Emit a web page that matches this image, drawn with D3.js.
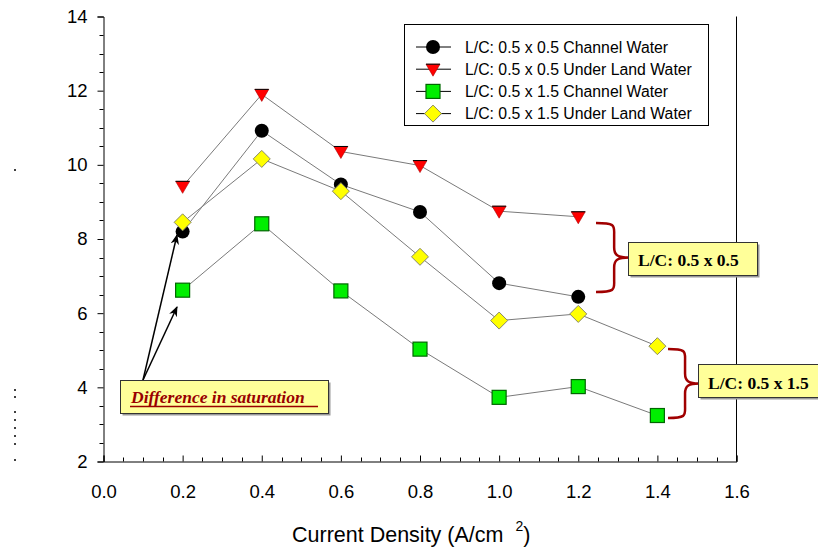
<html>
<head>
  <meta charset="utf-8" />
  <script src="https://cdnjs.cloudflare.com/ajax/libs/d3/7.8.5/d3.min.js"></script>
  <style>
    body { margin: 0; background: #fff; }
  </style>
</head>
<body>
<svg width="818" height="548" font-family="Arial, 'Liberation Sans', sans-serif"></svg>
<script>
  // data
  var currentDensity = [0.2, 0.4, 0.6, 0.8, 1.0, 1.2, 1.4]
  var seriesNames = ["L/C: 0.5 x 0.5 Channel Water", "L/C: 0.5 x 0.5 Under Land Water",
                     "L/C: 0.5 x 1.5 Channel Water", "L/C: 0.5 x 1.5 Under Land Water"]
  var channel05 = [8.2, 10.92, 9.47, 8.73, 6.81, 6.44]
  var underLand05 = [9.42, 11.9, 10.36, 9.98, 8.75, 8.6]
  var channel15 = [6.62, 8.41, 6.6, 5.03, 3.73, 4.02, 3.24]
  var underLand15 = [8.45, 10.16, 9.29, 7.52, 5.8, 5.98, 5.11]
  var xTicks = [0.0, 0.2, 0.4, 0.6, 0.8, 1.0, 1.2, 1.4, 1.6]
  var yTicks = [2, 4, 6, 8, 10, 12, 14]

  var svg = d3.select("svg")
  var x = d3.scaleLinear().domain([0, 1.6]).range([103.5, 736.5])
  var y = d3.scaleLinear().domain([2, 14]).range([461.5, 16.5])
  var serif = "'Liberation Serif', 'Times New Roman', serif"

  // right frame line
  svg.append("line").attr("x1", x(1.6)).attr("x2", x(1.6)).attr("y1", y(14)).attr("y2", y(2))
    .attr("stroke", "#000").attr("stroke-width", 1)

  var yAxis = d3.axisLeft(y).tickValues(yTicks).tickFormat(d3.format("d")).tickSize(6).tickPadding(10)
  var gy = svg.append("g").attr("transform", "translate(" + x(0) + ",0)").call(yAxis)
  gy.attr("font-family", null)
  gy.select(".domain").attr("stroke", "#000")
  gy.selectAll(".tick text").attr("font-size", 18.5).attr("fill", "#000")
  gy.selectAll("line.minor").data(d3.range(2.5, 14, 0.5).filter(v => v % 2 != 0))
    .enter().append("line").attr("class", "minor")
    .attr("x1", -4).attr("x2", 0).attr("y1", d => Math.round(y(d)) + 0.5).attr("y2", d => Math.round(y(d)) + 0.5).attr("stroke", "#000")

  var xAxis = d3.axisBottom(x).tickValues(xTicks).tickFormat(d3.format(".1f")).tickSize(-6).tickPadding(23)
  var gx = svg.append("g").attr("transform", "translate(0," + y(2) + ")").call(xAxis)
  gx.attr("font-family", null)
  gx.select(".domain").attr("stroke", "#000")
  gx.selectAll(".tick text").attr("font-size", 18.5).attr("fill", "#000")
  gx.selectAll("line.minor").data(d3.range(0.05, 1.6, 0.05).filter(v => Math.abs(v / 0.2 - Math.round(v / 0.2)) > 0.01))
    .enter().append("line").attr("class", "minor")
    .attr("y1", -4).attr("y2", 0).attr("x1", d => Math.round(x(d)) + 0.5).attr("x2", d => Math.round(x(d)) + 0.5).attr("stroke", "#000")

  svg.append("text").attr("x", 292).attr("y", 542).attr("font-size", 21.5)
    .html('Current Density (A/cm&#160;&#160;<tspan dy="-11" font-size="14">2</tspan><tspan dy="11">)</tspan>')

  // stray dots on the left edge
  svg.selectAll("circle.stray").data([170, 390, 397, 412, 420, 428, 436, 444, 460])
    .enter().append("circle").attr("class", "stray").attr("cx", 15).attr("cy", d => d).attr("r", 1).attr("fill", "#000")

  var series = [channel05, underLand05, channel15, underLand15]
  var markers = [
    function(g) { g.append("circle").attr("r", 7).attr("fill", "#000") },
    function(g) {
      g.append("path").attr("d", "M-7,-5L7,-5L0,7Z").attr("fill", "#ff0000").attr("stroke", "#aa0000").attr("stroke-width", 0.6)
      g.append("line").attr("x1", -7).attr("x2", 7).attr("y1", -5).attr("y2", -5).attr("stroke", "#000").attr("stroke-width", 1)
    },
    function(g) { g.append("rect").attr("x", -7).attr("y", -7).attr("width", 14).attr("height", 14).attr("fill", "#00ee00").attr("stroke", "#006600").attr("stroke-width", 1.2) },
    function(g) { g.append("path").attr("d", "M0,-8.5L8.5,0L0,8.5L-8.5,0Z").attr("fill", "#ffff00").attr("stroke", "#888866").attr("stroke-width", 1) }
  ]

  var line = d3.line().x((d, i) => x(currentDensity[i])).y(d => y(d))
  series.forEach(function(s) {
    svg.append("path").datum(s).attr("d", line).attr("fill", "none").attr("stroke", "#7a7a7a").attr("stroke-width", 1)
  })
  series.forEach(function(s, k) {
    svg.append("g").selectAll("g").data(s).enter().append("g")
      .attr("transform", (d, i) => "translate(" + x(currentDensity[i]) + "," + y(d) + ")")
      .each(function() { markers[k](d3.select(this)) })
  })

  // legend
  var lg = svg.append("g")
  lg.append("rect").attr("x", 404.5).attr("y", 24.5).attr("width", 304).attr("height", 101)
    .attr("fill", "#fff").attr("stroke", "#000").attr("stroke-width", 1)
  seriesNames.forEach(function(name, k) {
    var ly = 47 + k * 22.2
    lg.append("line").attr("x1", 416).attr("x2", 451).attr("y1", ly).attr("y2", ly).attr("stroke", "#000")
    markers[k](lg.append("g").attr("transform", "translate(433," + ly + ")"))
    lg.append("text").attr("x", 465).attr("y", ly + 5.5).attr("font-size", 15.8).text(name)
  })

  // annotation boxes
  function box(x0, y0, w, h) {
    svg.append("rect").attr("x", x0 + 2).attr("y", y0 + 2).attr("width", w).attr("height", h).attr("fill", "#999")
    svg.append("rect").attr("x", x0).attr("y", y0).attr("width", w).attr("height", h)
      .attr("fill", "#ffff99").attr("stroke", "#333").attr("stroke-width", 1)
  }
  function brace(xl, yt, yb, xt) {
    var ym = (yt + yb) / 2, xm = xl + (xt - xl) * 0.55
    var d = "M" + xl + "," + yt + " C" + (xm + 2) + "," + yt + " " + xm + "," + (yt + 3) + " " + xm + "," + (yt + 12) +
      " L" + xm + "," + (ym - 10) + " C" + xm + "," + (ym - 2) + " " + (xm + 4) + "," + ym + " " + xt + "," + ym +
      " C" + (xm + 4) + "," + ym + " " + xm + "," + (ym + 2) + " " + xm + "," + (ym + 10) +
      " L" + xm + "," + (yb - 12) + " C" + xm + "," + (yb - 3) + " " + (xm + 2) + "," + yb + " " + xl + "," + yb
    svg.append("path").attr("d", d).attr("fill", "none").attr("stroke", "#a00000").attr("stroke-width", 2.5)
  }
  brace(596, 223, 292, 629)
  box(628.5, 242.5, 129, 33)
  svg.append("text").attr("x", 638).attr("y", 265.5).attr("font-family", serif)
    .attr("font-weight", "bold").attr("font-size", 17.5).text("L/C: 0.5 x 0.5")
  brace(668, 349, 418, 699)
  box(698.5, 364.5, 120, 33)
  svg.append("text").attr("x", 708).attr("y", 388.5).attr("font-family", serif)
    .attr("font-weight", "bold").attr("font-size", 17.5).text("L/C: 0.5 x 1.5")

  // difference in saturation callout
  svg.append("defs").append("marker").attr("id", "ah").attr("viewBox", "0 0 10 10").attr("refX", 9).attr("refY", 5)
    .attr("markerWidth", 7).attr("markerHeight", 7).attr("orient", "auto")
    .append("path").attr("d", "M0,1L10,5L0,9L3,5Z").attr("fill", "#000")
  svg.append("line").attr("x1", 143).attr("y1", 380).attr("x2", 177).attr("y2", 235)
    .attr("stroke", "#000").attr("stroke-width", 1.5).attr("marker-end", "url(#ah)")
  svg.append("line").attr("x1", 143).attr("y1", 380).attr("x2", 177).attr("y2", 307)
    .attr("stroke", "#000").attr("stroke-width", 1.5).attr("marker-end", "url(#ah)")
  box(120.5, 380.5, 208, 33)
  svg.append("text").attr("x", 131).attr("y", 402.5).attr("font-family", serif)
    .attr("font-weight", "bold").attr("font-style", "italic").attr("font-size", 17.5).attr("fill", "#990000")
    .text("Difference in saturation")
  svg.append("line").attr("x1", 130).attr("x2", 318).attr("y1", 406.5).attr("y2", 406.5).attr("stroke", "#990000").attr("stroke-width", 1.5)
</script>
</body>
</html>
